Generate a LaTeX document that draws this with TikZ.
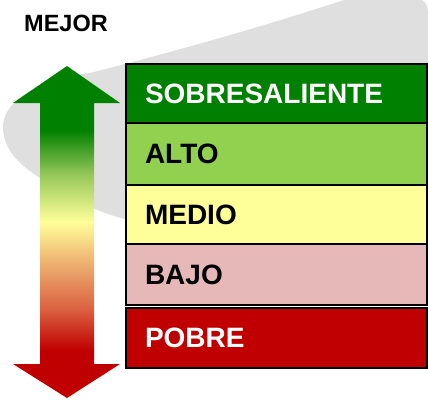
\documentclass[tikz,border=0pt]{standalone}
\usepackage{fontspec}
\setmainfont{Liberation Sans}
\usepackage{tikz}

\definecolor{bggray}{RGB}{223,223,223}
\definecolor{topgreen}{RGB}{0,128,0}
\definecolor{altogreen}{RGB}{146,208,80}
\definecolor{medioyellow}{RGB}{255,255,153}
\definecolor{bajopink}{RGB}{230,184,183}
\definecolor{pobrered}{RGB}{192,0,0}
\definecolor{midorange}{RGB}{240,190,120}
\definecolor{midred}{RGB}{218,96,64}
\definecolor{midgreen}{RGB}{150,200,90}

\pgfdeclareverticalshading{scaleshade}{100bp}{%
  color(0bp)=(pobrered); color(32.2bp)=(pobrered);
  color(38.3bp)=(midred); color(46.5bp)=(midorange);
  color(51.5bp)=(medioyellow); color(58.6bp)=(midgreen);
  color(65.4bp)=(topgreen); color(100bp)=(topgreen)}

\tikzset{
  levelbox/.style={draw=black,line width=1.3pt,minimum width=301pt,
    text width=263pt,inner xsep=19pt,align=left,
    font=\bfseries\fontsize{28}{30}\selectfont},
}

\begin{document}
\begin{tikzpicture}[x=1pt,y=-1pt]
 \useasboundingbox (0,0) rectangle (428,399);
 % grey backdrop
 \fill[bggray] (90,73) .. controls (200,45) and (290,18) .. (350,-2)
   -- (414,-2) .. controls (424,-2) and (428,4) .. (428,14)
   -- (428,245) -- (140,222)
   .. controls (110,218) and (70,200) .. (40,178)
   .. controls (20,165) and (3,150) .. (3,127)
   .. controls (3,100) and (40,80) .. (90,73) -- cycle;
 % double arrow
 \shade[shading=scaleshade] (67,66) -- (120,103) -- (94,103) -- (94,364)
   -- (120,364) -- (67,398) -- (13,364) -- (40,364) -- (40,103)
   -- (13,103) -- cycle;
 \node[anchor=base west,inner sep=0pt,font=\bfseries\fontsize{23.5}{26}\selectfont]
   (mejor) at (24,31) {MEJOR};
 % levels
 \node[levelbox,fill=topgreen,text=white,minimum height=59pt] (sobre) at (276.5,93.5) {SOBRESALIENTE};
 \node[levelbox,fill=altogreen,minimum height=62pt] (alto) at (276.5,154) {ALTO};
 \node[levelbox,fill=medioyellow,minimum height=59pt] (medio) at (276.5,214.5) {MEDIO};
 \node[levelbox,fill=bajopink,minimum height=61pt] (bajo) at (276.5,274.5) {BAJO};
 \node[levelbox,fill=pobrered,text=white,minimum height=60pt] (pobre) at (276.5,338) {POBRE};
\end{tikzpicture}
\end{document}
